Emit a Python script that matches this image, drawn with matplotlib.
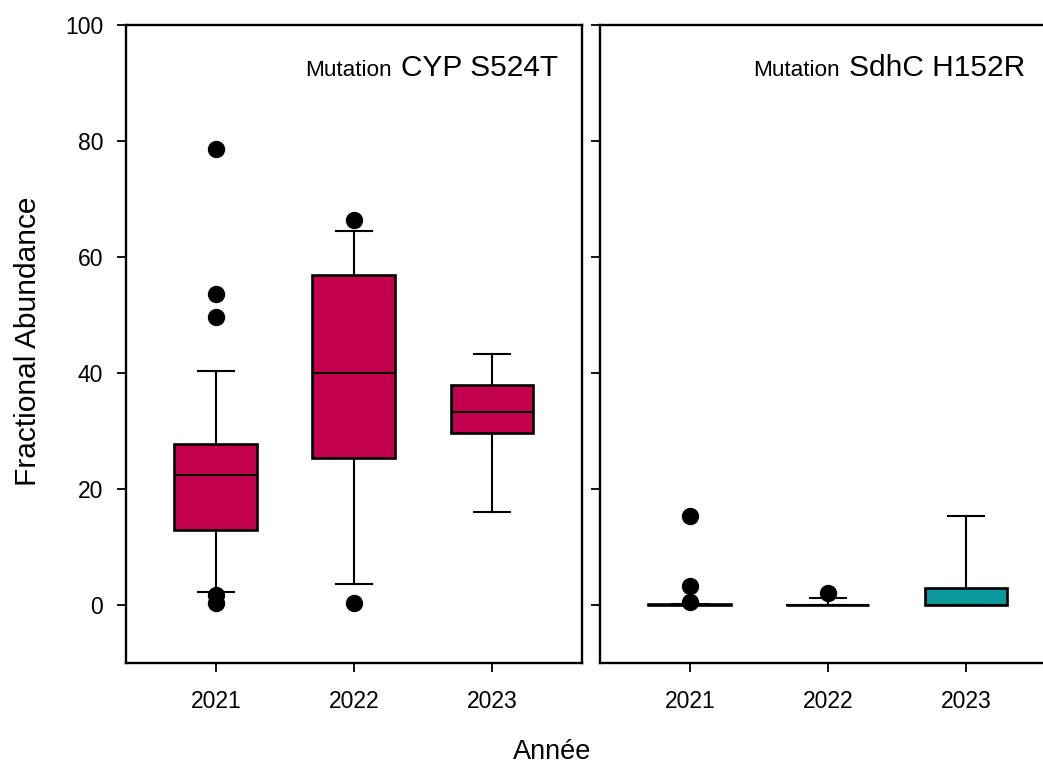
import matplotlib
matplotlib.use("Agg")
import matplotlib.pyplot as plt

plt.rcParams['font.family'] = ['Liberation Sans', 'DejaVu Sans']

years = ["2021", "2022", "2023"]

# CYP S524T box statistics
cyp_whislo = [2.3, 3.6, 16.1]
cyp_q1 = [12.9, 25.4, 29.6]
cyp_med = [22.4, 40.0, 33.3]
cyp_q3 = [27.8, 56.9, 37.9]
cyp_whishi = [40.4, 64.5, 43.3]
cyp_fliers = [[78.7, 53.6, 49.7, 1.8, 0.3], [66.3, 0.3], []]

# SdhC H152R box statistics
sdh_whislo = [0.0, 0.0, 0.0]
sdh_q1 = [0.0, 0.0, 0.0]
sdh_med = [0.0, 0.0, 0.0]
sdh_q3 = [0.1, 0.0, 2.9]
sdh_whishi = [0.2, 1.2, 15.3]
sdh_fliers = [[15.4, 3.2, 0.5], [2.0], []]

yticks = [0, 20, 40, 60, 80, 100]

W, H = 1043, 765
fig = plt.figure(figsize=(W / 100, H / 100), dpi=100)

def px_axes(x0, x1, ytop, ybot):
    return [x0 / W, 1 - ybot / H, (x1 - x0) / W, (ybot - ytop) / H]

ax1 = fig.add_axes(px_axes(126, 582, 25, 663))
ax2 = fig.add_axes(px_axes(600, 1056, 25, 663))

def draw(ax, wl, q1, med, q3, wh, fl, color):
    stats = []
    for i in range(len(years)):
        stats.append(dict(whislo=wl[i], q1=q1[i], med=med[i], q3=q3[i],
                          whishi=wh[i], fliers=fl[i], label=years[i]))
    ax.bxp(stats, positions=[1, 2, 3], widths=0.6, capwidths=0.26,
           patch_artist=True, showfliers=True,
           boxprops=dict(facecolor=color, edgecolor='black', linewidth=1.9),
           medianprops=dict(color='black', linewidth=1.5),
           whiskerprops=dict(color='black', linewidth=1.5),
           capprops=dict(color='black', linewidth=1.5),
           flierprops=dict(marker='o', markerfacecolor='black',
                           markeredgecolor='black', markersize=11.5))
    ax.set_xlim(0.35, 3.652)
    ax.set_ylim(-10, 100)
    ax.set_yticks(yticks)
    ax.set_xticks([1, 2, 3])
    ax.set_xticklabels(years)
    ax.tick_params(axis='both', direction='out', length=6.5, width=1.3,
                   labelsize=16.5, color='black')
    ax.tick_params(axis='x', pad=13)
    ax.tick_params(axis='y', pad=10)
    for s in ax.spines.values():
        s.set_linewidth(1.7)
        s.set_color('black')

draw(ax1, cyp_whislo, cyp_q1, cyp_med, cyp_q3, cyp_whishi, cyp_fliers, '#C3004C')
draw(ax2, sdh_whislo, sdh_q1, sdh_med, sdh_q3, sdh_whishi, sdh_fliers, '#0B999E')
ax2.tick_params(axis='y', labelleft=False)
ax2.spines['right'].set_visible(False)

fig.text(28 / W, 1 - 341 / H, "Fractional Abundance", rotation=90,
         ha='center', va='center', fontsize=21.5)
fig.text(552 / W, 1 - 752 / H, "Année", ha='center', va='center', fontsize=19.5)

big1 = ax1.text(0.947, 0.920, "CYP S524T", transform=ax1.transAxes,
                ha='right', va='baseline', fontsize=21.5)
big2 = ax2.text(0.932, 0.920, "SdhC H152R", transform=ax2.transAxes,
                ha='right', va='baseline', fontsize=21.5)
fig.canvas.draw()
r = fig.canvas.get_renderer()
for ax, big in ((ax1, big1), (ax2, big2)):
    bb = big.get_window_extent(r)
    xa = ax.transAxes.inverted().transform((bb.x0 - 9, 0))[0]
    ax.text(xa, 0.920, "Mutation", transform=ax.transAxes,
            ha='right', va='baseline', fontsize=16.2)

fig.savefig("out.png", dpi=100)
